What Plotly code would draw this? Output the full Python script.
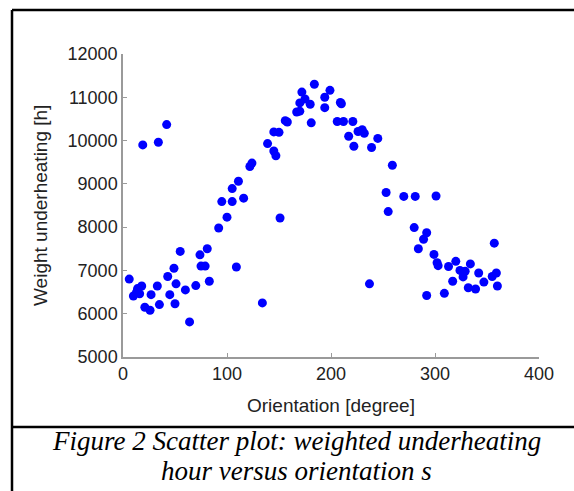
import plotly.graph_objects as go

orientation = [6, 10, 13, 14, 16, 18, 19, 21, 26, 27, 33, 34, 35, 42, 43, 45, 49, 50, 51, 55,
               60, 64, 70, 74, 75, 79, 81, 83, 92, 95, 100, 105, 105, 109, 111, 116, 122, 124,
               134, 139, 145, 145, 147, 150, 151, 156, 158, 167, 170, 170, 172, 175, 180, 181,
               184, 194, 194, 199, 206, 209, 210, 212, 217, 221, 222, 226, 230, 232, 237, 239,
               245, 253, 255, 259, 270, 281, 280, 284, 289, 292, 292, 299, 301, 302, 303, 309,
               313, 317, 320, 324, 327, 329, 332, 334, 339, 342, 347, 355, 357, 359, 360]
underheating = [6800, 6410, 6500, 6580, 6460, 6640, 9900, 6150, 6080, 6440, 6640, 9960, 6210, 10370,
                6860, 6440, 7050, 6230, 6690, 7440, 6550, 5810, 6650, 7360, 7100, 7100, 7500, 6750,
                7980, 8590, 8230, 8590, 8890, 7080, 9060, 8670, 9400, 9480, 6250, 9930, 10200, 9760,
                9650, 10190, 8210, 10460, 10430, 10660, 10680, 10870, 11120, 10960, 10840, 10410,
                11300, 11000, 10760, 11160, 10440, 10880, 10850, 10440, 10100, 10440, 9870, 10210,
                10250, 10170, 6690, 9840, 10050, 8800, 8360, 9430, 8710, 8710, 7990, 7500, 7720,
                7870, 6420, 7370, 8720, 7180, 7110, 6470, 7090, 6750, 7210, 7000, 6850, 6980, 6600,
                7150, 6570, 6940, 6730, 6860, 7630, 6940, 6640]

x_ticks = [0, 100, 200, 300, 400]
y_ticks = [5000, 6000, 7000, 8000, 9000, 10000, 11000, 12000]

x_title = "Orientation [degree]"
y_title = "Weight underheating [h]"
caption_1 = "Figure 2 Scatter plot: weighted underheating"
caption_2 = "hour versus orientation s"

W, H = 574, 491
L, R, T, B = 123, 35, 54, 134
PW, PH = W - L - R, H - T - B


def px(xp):
    return (xp - L) / PW


def py(yp):
    return (H - B - yp) / PH


fig = go.Figure()
fig.add_trace(go.Scatter(
    x=orientation, y=underheating, mode="markers",
    marker=dict(color="#0000ff", size=9, line=dict(width=0)),
    showlegend=False, hoverinfo="skip"))

axis_common = dict(
    showgrid=False, zeroline=False, showline=True, linecolor="#9a9a9a", linewidth=1.5,
    ticks="inside", ticklen=4, tickwidth=1, tickcolor="#9a9a9a",
    tickfont=dict(family="Liberation Sans, Arial, sans-serif", size=18, color="#222"),
)
fig.update_xaxes(range=[0, 400], tickvals=x_ticks, ticktext=[str(v) for v in x_ticks], **axis_common)
fig.update_yaxes(range=[5000, 12000], tickvals=y_ticks, ticktext=[str(v) for v in y_ticks], **axis_common)

annotations = [
    dict(text=x_title, x=px(331), y=py(405), xref="paper", yref="paper", showarrow=False,
         xanchor="center", yanchor="middle",
         font=dict(family="Liberation Sans, Arial, sans-serif", size=19, color="#222")),
    dict(text=y_title, x=px(40), y=py(206), xref="paper", yref="paper", showarrow=False,
         textangle=-90, xanchor="center", yanchor="middle",
         font=dict(family="Liberation Sans, Arial, sans-serif", size=19, color="#222")),
    dict(text="<i>" + caption_1 + "</i>", x=px(296), y=py(441), xref="paper", yref="paper",
         showarrow=False, xanchor="center", yanchor="middle",
         font=dict(family="Liberation Serif, Times New Roman, serif", size=27, color="#000")),
    dict(text="<i>" + caption_2 + "</i>", x=px(296), y=py(471), xref="paper", yref="paper",
         showarrow=False, xanchor="center", yanchor="middle",
         font=dict(family="Liberation Serif, Times New Roman, serif", size=27, color="#000")),
]

line_style = dict(color="#000", width=2.5)
shapes = [
    dict(type="line", xref="paper", yref="paper", x0=px(12), x1=px(12), y0=py(10), y1=py(495), line=line_style),
    dict(type="line", xref="paper", yref="paper", x0=px(12), x1=px(580), y0=py(10), y1=py(10), line=line_style),
    dict(type="line", xref="paper", yref="paper", x0=px(12), x1=px(580), y0=py(427), y1=py(427), line=line_style),
]

fig.update_layout(
    width=W, height=H, margin=dict(l=L, r=R, t=T, b=B, autoexpand=False),
    paper_bgcolor="white", plot_bgcolor="white",
    annotations=annotations, shapes=shapes,
)

fig.write_html("out.html", config={"displayModeBar": False},
               post_script="document.body.style.margin='0';document.body.style.overflow='hidden';")
